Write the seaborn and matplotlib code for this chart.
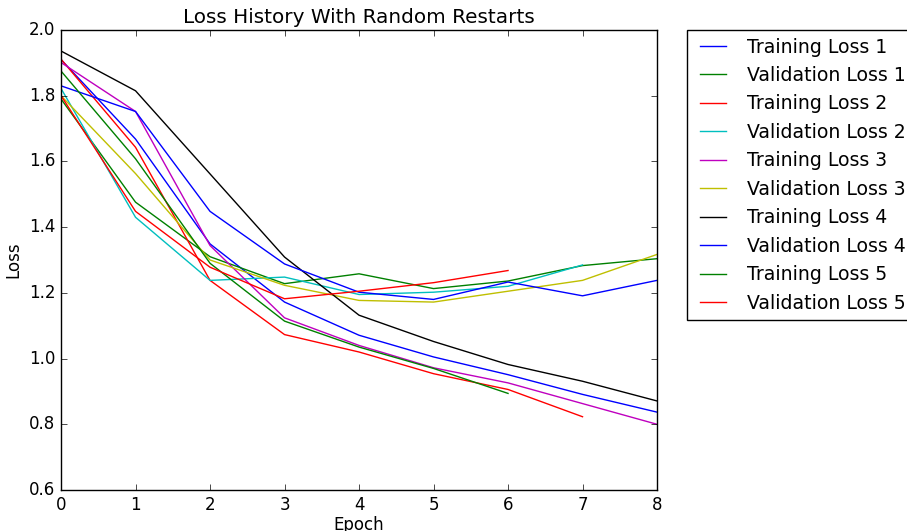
import matplotlib
matplotlib.use("Agg")
import matplotlib.pyplot as plt
import seaborn as sns

plt.style.use("classic")

# loss values, one list per run
train_1 = [1.91, 1.668, 1.349, 1.172, 1.071, 1.005, 0.951, 0.891, 0.837]
val_1 = [1.79, 1.476, 1.31, 1.228, 1.258, 1.213, 1.236, 1.283, 1.304]
train_2 = [1.911, 1.643, 1.238, 1.073, 1.02, 0.954, 0.906, 0.823]
val_2 = [1.822, 1.43, 1.238, 1.248, 1.195, 1.202, 1.22, 1.285]
train_3 = [1.901, 1.752, 1.344, 1.124, 1.04, 0.972, 0.926, 0.863, 0.80]
val_3 = [1.80, 1.563, 1.30, 1.223, 1.177, 1.172, 1.205, 1.238, 1.317]
train_4 = [1.936, 1.815, 1.562, 1.309, 1.132, 1.052, 0.982, 0.931, 0.871]
val_4 = [1.83, 1.752, 1.448, 1.288, 1.202, 1.18, 1.233, 1.191, 1.238]
train_5 = [1.875, 1.608, 1.29, 1.114, 1.035, 0.97, 0.894]
val_5 = [1.80, 1.448, 1.278, 1.182, 1.205, 1.231, 1.268]

runs = [
    ("Training Loss 1", train_1, "b"),
    ("Validation Loss 1", val_1, "g"),
    ("Training Loss 2", train_2, "r"),
    ("Validation Loss 2", val_2, "c"),
    ("Training Loss 3", train_3, "m"),
    ("Validation Loss 3", val_3, "y"),
    ("Training Loss 4", train_4, "k"),
    ("Validation Loss 4", val_4, "b"),
    ("Training Loss 5", train_5, "g"),
    ("Validation Loss 5", val_5, "r"),
]

fig = plt.figure(figsize=(9.07, 5.31), dpi=100, facecolor="white")
fig.subplots_adjust(left=0.0673, right=0.7244, bottom=0.0772, top=0.9435)
ax = fig.add_subplot(111)

for label, vals, col in runs:
    epochs = list(range(len(vals)))
    sns.lineplot(x=epochs, y=vals, color=col, label=label, linewidth=1.0, ax=ax)

ax.set_xlim(0, 8)
ax.set_ylim(0.6, 2.0)
ax.set_title("Loss History With Random Restarts")
ax.set_xlabel("Epoch", labelpad=2)
ax.set_ylabel("Loss")

# legend sits outside the axes and runs off the right edge, as in the original
ax.legend(bbox_to_anchor=(1.05, 1), loc=2, borderaxespad=0., prop={"size": 13.6})

fig.savefig("out.png", dpi=100, facecolor="white")
